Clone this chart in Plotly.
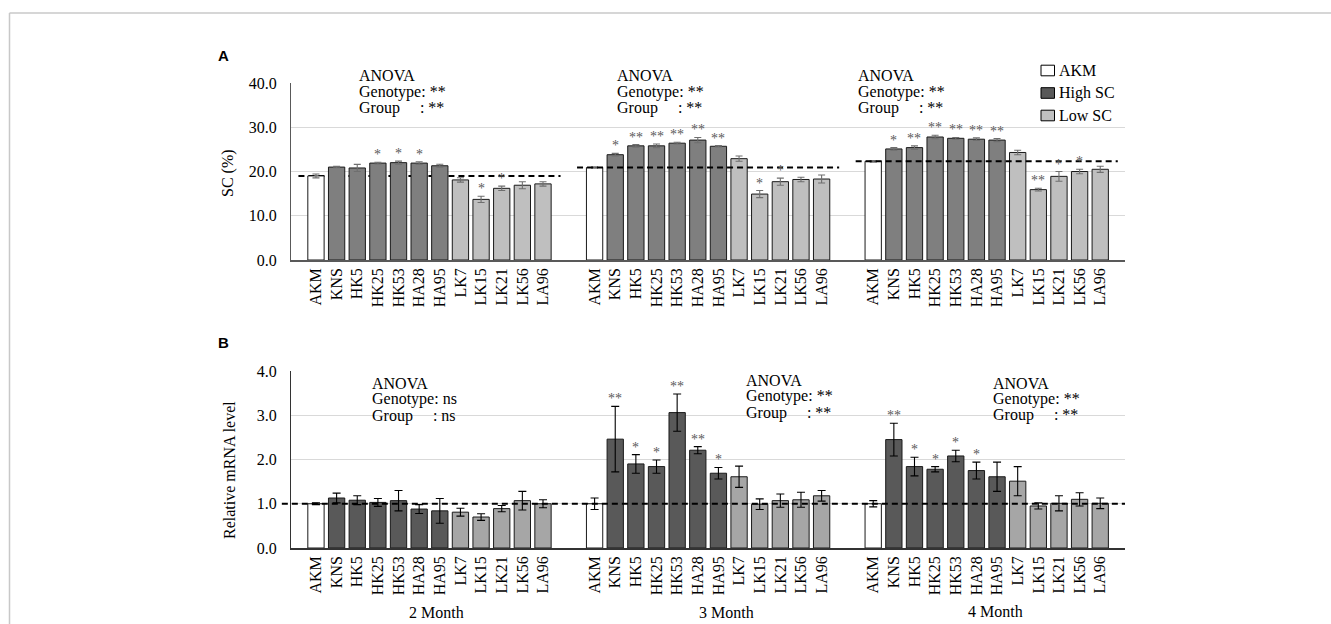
import plotly.graph_objects as go

# ---------------- data ----------------
months = ["2 Month", "3 Month", "4 Month"]
genotypes = ["AKM", "KNS", "HK5", "HK25", "HK53", "HA28", "HA95",
             "LK7", "LK15", "LK21", "LK56", "LA96"]
groups = ["AKM", "High SC", "High SC", "High SC", "High SC", "High SC", "High SC",
          "Low SC", "Low SC", "Low SC", "Low SC", "Low SC"]

# Panel A: SC (%)
sc_2m = [19.0, 21.0, 20.8, 21.9, 22.0, 21.9, 21.3, 18.1, 13.7, 16.2, 16.9, 17.2]
sc_2m_err = [0.45, 0.15, 0.8, 0.2, 0.35, 0.3, 0.35, 0.5, 0.7, 0.5, 0.8, 0.5]
sc_3m = [20.9, 23.8, 25.8, 25.8, 26.4, 27.1, 25.7, 22.9, 14.9, 17.7, 18.2, 18.3]
sc_3m_err = [0.15, 0.3, 0.3, 0.4, 0.2, 0.6, 0.15, 0.6, 0.8, 0.8, 0.5, 0.9]
sc_4m = [22.3, 25.1, 25.4, 27.8, 27.5, 27.3, 27.1, 24.3, 15.9, 18.9, 20.0, 20.5]
sc_4m_err = [0.2, 0.3, 0.4, 0.4, 0.2, 0.3, 0.35, 0.5, 0.3, 1.1, 0.5, 0.7]
sc_stars_2m = ["", "", "", "*", "*", "*", "", "", "*", "*", "", ""]
sc_stars_3m = ["", "*", "**", "**", "**", "**", "**", "", "*", "*", "", ""]
sc_stars_4m = ["", "*", "**", "**", "**", "**", "**", "", "**", "*", "*", ""]

# Panel B: relative mRNA level
mrna_2m = [1.00, 1.13, 1.08, 1.03, 1.07, 0.88, 0.84, 0.81, 0.70, 0.89, 1.07, 1.00]
mrna_2m_err = [0.02, 0.11, 0.10, 0.09, 0.23, 0.10, 0.28, 0.09, 0.075, 0.07, 0.21, 0.09]
mrna_3m = [1.00, 2.46, 1.90, 1.84, 3.06, 2.21, 1.69, 1.61, 0.99, 1.07, 1.09, 1.18]
mrna_3m_err = [0.13, 0.74, 0.21, 0.15, 0.42, 0.08, 0.13, 0.24, 0.12, 0.15, 0.17, 0.12]
mrna_4m = [1.00, 2.45, 1.84, 1.78, 2.08, 1.75, 1.61, 1.51, 0.95, 1.01, 1.10, 1.01]
mrna_4m_err = [0.07, 0.37, 0.21, 0.06, 0.13, 0.19, 0.33, 0.33, 0.07, 0.17, 0.15, 0.12]
mrna_stars_2m = ["", "", "", "", "", "", "", "", "", "", "", ""]
mrna_stars_3m = ["", "**", "*", "*", "**", "**", "*", "", "", "", "", ""]
mrna_stars_4m = ["", "**", "*", "*", "*", "*", "", "", "", "", "", ""]

sc_anova = [("**", "**"), ("**", "**"), ("**", "**")]
mrna_anova = [("ns", "ns"), ("**", "**"), ("**", "**")]

# ---------------- layout helpers ----------------
W, H = 1331, 624
L, R, T, B = 291, 1125, 83, 548
GROUP_STEP = 13.5
XR = [-1.21, 39.2]
SERIF = "Liberation Serif"
NB = "\u00a0"


def px(xp):
    return (xp - L) / (R - L)


def py(yp):
    return (B - yp) / (B - T)


def pos(m, i):
    return m * GROUP_STEP + i


colors_a = {"AKM": "#ffffff", "High SC": "#7f7f7f", "Low SC": "#bfbfbf"}
colors_b = {"AKM": "#ffffff", "High SC": "#595959", "Low SC": "#a6a6a6"}

fig = go.Figure()


def add_panel(vals, errs, colors, xa, ya, errcolor, errwidth):
    for grp in ["AKM", "High SC", "Low SC"]:
        xs, ys, es = [], [], []
        for m in range(3):
            for i, g in enumerate(groups):
                if g == grp:
                    xs.append(pos(m, i))
                    ys.append(vals[m][i])
                    es.append(errs[m][i])
        fig.add_trace(go.Bar(
            x=xs, y=ys, width=0.79, name=grp, showlegend=False,
            marker=dict(color=colors[grp], line=dict(color="#1a1a1a", width=1)),
            error_y=dict(type="data", array=es, color=errcolor, thickness=1.1, width=errwidth),
            xaxis=xa, yaxis=ya,
        ))


add_panel([sc_2m, sc_3m, sc_4m], [sc_2m_err, sc_3m_err, sc_4m_err], colors_a, "x", "y", "#6f6f6f", 3.5)
add_panel([mrna_2m, mrna_3m, mrna_4m], [mrna_2m_err, mrna_3m_err, mrna_4m_err], colors_b, "x2", "y2", "#000000", 4)

annotations = []
shapes = []

# stars
def add_stars(vals, errs, stars, xr, yr):
    for m in range(3):
        for i in range(len(genotypes)):
            s = stars[m][i]
            if s:
                annotations.append(dict(
                    x=pos(m, i), y=vals[m][i] + errs[m][i], xref=xr, yref=yr,
                    text=s, showarrow=False, xanchor="center", yanchor="bottom", yshift=-2,
                    font=dict(family=SERIF, size=14, color="#595959")))


add_stars([sc_2m, sc_3m, sc_4m], [sc_2m_err, sc_3m_err, sc_4m_err],
          [sc_stars_2m, sc_stars_3m, sc_stars_4m], "x", "y")
add_stars([mrna_2m, mrna_3m, mrna_4m], [mrna_2m_err, mrna_3m_err, mrna_4m_err],
          [mrna_stars_2m, mrna_stars_3m, mrna_stars_4m], "x2", "y2")

# ANOVA text blocks
def add_anova(x, ys, res):
    lines = ["ANOVA", "Genotype: " + res[0], "Group" + NB * 5 + ": " + res[1]]
    for yy, t in zip(ys, lines):
        annotations.append(dict(x=px(x - 2), y=py(yy), xref="paper", yref="paper",
                                text=t, showarrow=False, xanchor="left", yanchor="middle",
                                font=dict(family=SERIF, size=16, color="#000000")))


for (x, ys), res in zip([(359, (75, 92, 108)), (617, (75, 92, 108)), (858, (75, 92, 108))], sc_anova):
    add_anova(x, ys, res)
for (x, ys), res in zip([(372, (383, 399, 416)), (746, (380, 396, 413)), (993, (383, 399, 415))], mrna_anova):
    add_anova(x, ys, res)

# dashed reference lines (AKM level)
akm_sc = [sc_2m[0], sc_3m[0], sc_4m[0]]
for m in range(3):
    shapes.append(dict(type="line", xref="x", yref="y",
                       x0=pos(m, 0) - 0.85, x1=pos(m, 11) + 0.85, y0=akm_sc[m], y1=akm_sc[m],
                       line=dict(color="#000000", width=2, dash="6px,4px"),
                       layer="between" if m == 0 else "above"))
shapes.append(dict(type="line", xref="x2 domain", yref="y2", x0=-0.011, x1=1.0,
                   y0=mrna_2m[0], y1=mrna_2m[0],
                   line=dict(color="#000000", width=2, dash="6px,4px"), layer="above"))


def centered(x, y, text, size=16, family=SERIF, angle=0):
    return dict(x=px(x), y=py(y), xref="paper", yref="paper", text=text, textangle=angle,
                showarrow=False, xanchor="center", yanchor="middle",
                font=dict(family=family, size=size, color="#000000"))


# axis titles, panel letters, month labels
annotations += [
    centered(228, 173, "SC (%)", angle=-90),
    centered(229, 470, "Relative mRNA level", angle=-90),
    centered(223, 56, "<b>A</b>", size=15, family="Liberation Sans"),
    centered(223, 342, "<b>B</b>", size=15, family="Liberation Sans"),
]
for xm, ym, t in zip([436, 726, 995], [613, 612, 611], months):
    annotations.append(centered(xm, ym, t))

# legend (manual)
legend_items = ["AKM", "High SC", "Low SC"]
legend_colors = {"AKM": "#ffffff", "High SC": "#595959", "Low SC": "#c0c0c0"}
for name, yc in zip(legend_items, [70.5, 93, 115.5]):
    shapes.append(dict(type="rect", xref="paper", yref="paper",
                       x0=px(1041), x1=px(1054.5), y0=py(yc - 5.3), y1=py(yc + 5.3),
                       fillcolor=legend_colors[name], line=dict(color="#000000", width=1), layer="above"))
    annotations.append(dict(x=px(1057), y=py(yc), xref="paper", yref="paper", text=name,
                            showarrow=False, xanchor="left", yanchor="middle",
                            font=dict(family=SERIF, size=16, color="#000000")))

# outer frame (top and left edges visible)
shapes.append(dict(type="line", xref="paper", yref="paper", x0=px(9.5), x1=px(1331), y0=py(13), y1=py(13),
                   line=dict(color="#c8c8c8", width=1.5)))
shapes.append(dict(type="line", xref="paper", yref="paper", x0=px(9.5), x1=px(9.5), y0=py(13), y1=py(624),
                   line=dict(color="#c8c8c8", width=1.5)))

tickvals = [pos(m, i) for m in range(3) for i in range(len(genotypes))]
ticktext = genotypes * 3

xcommon = dict(range=XR, tickvals=tickvals, ticktext=ticktext, tickangle=-90,
               showgrid=False, zeroline=False, showline=True, linewidth=1.5, ticks="",
               tickfont=dict(family=SERIF, size=16, color="#000000"))
ycommon = dict(showgrid=True, gridcolor="#d9d9d9", gridwidth=1, zeroline=False,
               showline=True, linewidth=1.2, ticks="", tickformat=".1f", ticklabelstandoff=10,
               tickfont=dict(family=SERIF, size=16, color="#000000"))

fig.update_layout(
    width=W, height=H,
    margin=dict(l=L, r=W - R, t=T, b=H - B, pad=0),
    paper_bgcolor="#ffffff", plot_bgcolor="#ffffff",
    barmode="overlay",
    showlegend=False,
    xaxis=dict(domain=[0, 1], anchor="y", linecolor="#595959", **xcommon),
    yaxis=dict(domain=[py(260), 1], anchor="x", range=[0, 40],
               tickvals=[0, 10, 20, 30, 40], linecolor="#595959", **ycommon),
    xaxis2=dict(domain=[0, 1], anchor="y2", linecolor="#333333", **xcommon),
    yaxis2=dict(domain=[0, py(371)], anchor="x2", range=[0, 4],
                tickvals=[0, 1, 2, 3, 4], linecolor="#333333", **ycommon),
    annotations=annotations,
    shapes=shapes,
)

fig.write_html("out.html",
               config={"displayModeBar": False},
               post_script="document.body.style.margin='0';document.body.style.padding='0';"
                           "document.body.style.overflow='hidden';")
